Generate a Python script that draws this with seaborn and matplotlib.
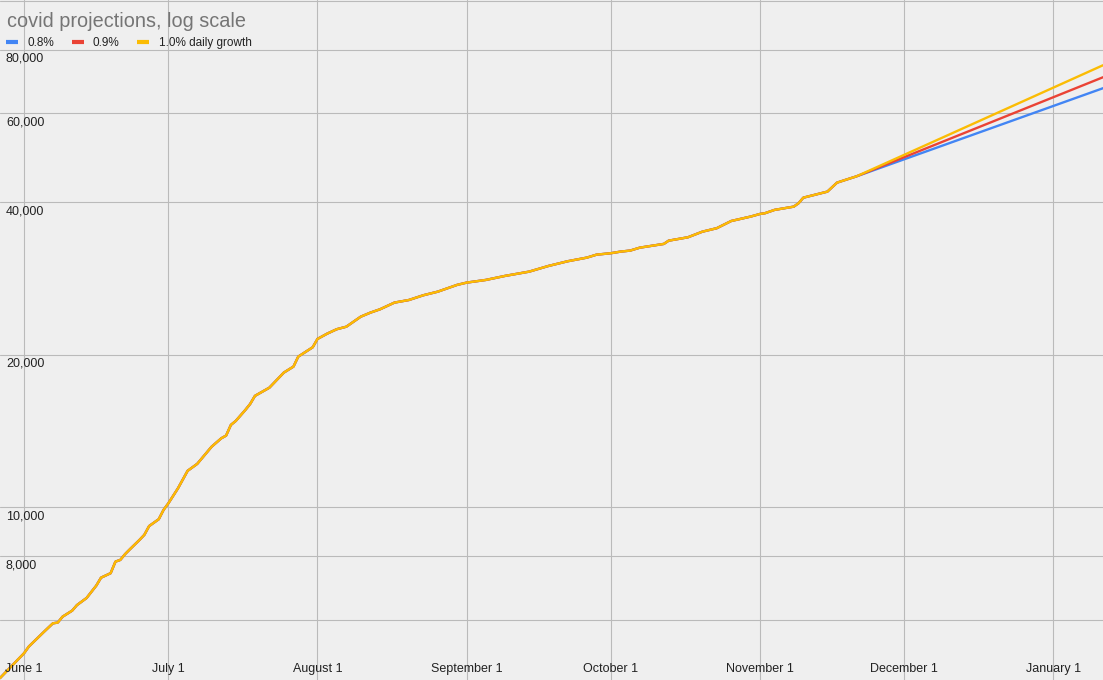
import pandas as pd
import matplotlib
matplotlib.use('Agg')
import matplotlib.pyplot as plt
import matplotlib.ticker as mticker
from matplotlib.transforms import offset_copy
import seaborn as sns

history_dates = [
    "2020-05-27", "2020-06-01", "2020-06-02", "2020-06-04", "2020-06-05", "2020-06-07",
    "2020-06-08", "2020-06-09", "2020-06-11", "2020-06-12", "2020-06-14", "2020-06-16",
    "2020-06-17", "2020-06-19", "2020-06-20", "2020-06-21", "2020-06-22", "2020-06-23",
    "2020-06-25", "2020-06-26", "2020-06-27", "2020-06-29", "2020-06-30", "2020-07-01",
    "2020-07-03", "2020-07-05", "2020-07-07", "2020-07-10", "2020-07-12", "2020-07-13",
    "2020-07-14", "2020-07-15", "2020-07-17", "2020-07-18", "2020-07-19", "2020-07-22",
    "2020-07-25", "2020-07-27", "2020-07-28", "2020-07-31", "2020-08-01", "2020-08-03",
    "2020-08-05", "2020-08-07", "2020-08-10", "2020-08-12", "2020-08-14", "2020-08-17",
    "2020-08-20", "2020-08-23", "2020-08-26", "2020-08-30", "2020-09-01", "2020-09-05",
    "2020-09-09", "2020-09-14", "2020-09-18", "2020-09-22", "2020-09-26", "2020-09-28",
    "2020-10-01", "2020-10-03", "2020-10-05", "2020-10-07", "2020-10-12", "2020-10-13",
    "2020-10-17", "2020-10-20", "2020-10-23", "2020-10-26", "2020-10-30", "2020-11-01",
    "2020-11-02", "2020-11-04", "2020-11-08", "2020-11-09", "2020-11-10", "2020-11-15",
    "2020-11-17", "2020-11-20", "2020-11-21",
]
history_values = [
    4600, 5150, 5310, 5540, 5660, 5900,
    5920, 6080, 6250, 6410, 6620, 7000,
    7260, 7410, 7810, 7870, 8080, 8260,
    8620, 8820, 9180, 9470, 9880, 10180,
    10900, 11800, 12180, 13170, 13680, 13850,
    14540, 14800, 15560, 15990, 16590, 17220,
    18440, 18950, 19830, 20690, 21490, 22010,
    22460, 22720, 23780, 24220, 24590, 25350,
    25650, 26210, 26640, 27470, 27760, 28100,
    28620, 29180, 29940, 30590, 31100, 31520,
    31730, 31960, 32110, 32540, 33100, 33590,
    34110, 34990, 35550, 36730, 37470, 37930,
    38050, 38630, 39210, 39820, 40840, 41980,
    43730, 44670, 44980,
]

# projections: straight lines on the log scale from the last observed point
series_labels = ["0.8%", "0.9%", "1.0% daily growth"]
series_colors = ["#4285f4", "#ea4335", "#fbbc04"]
proj_end_date = "2021-01-11 07:00"
proj_end_values = [67170, 70600, 74560]

y_ticks = [6000, 8000, 10000, 20000, 40000, 60000, 80000, 100000]
y_tick_labels = ["", "8,000", "10,000", "20,000", "40,000", "60,000", "80,000", ""]
x_tick_dates = ["2020-06-01", "2020-07-01", "2020-08-01", "2020-09-01",
                "2020-10-01", "2020-11-01", "2020-12-01", "2021-01-01"]
x_tick_labels = ["June 1", "July 1", "August 1", "September 1",
                 "October 1", "November 1", "December 1", "January 1"]

frames = []
for label, end_val in zip(series_labels, proj_end_values):
    d = pd.DataFrame({'date': history_dates + [proj_end_date],
                      'value': history_values + [end_val]})
    d['series'] = label
    frames.append(d)
df = pd.concat(frames, ignore_index=True)
df['date'] = pd.to_datetime(df['date'], format='mixed')

sns.set_theme(style='white')
plt.rcParams['font.family'] = ['Liberation Sans', 'DejaVu Sans']

bg = '#efefef'
grid_color = '#bababa'

fig = plt.figure(figsize=(11.03, 6.80), dpi=100, facecolor=bg)
ax = fig.add_axes([0, 0, 1, 1])
ax.set_facecolor(bg)

sns.lineplot(data=df, x='date', y='value', hue='series', hue_order=series_labels,
             palette=series_colors, estimator=None, linewidth=1.7, ax=ax)

ax.set_yscale('log')
ax.set_ylim(4560, 100300)
ax.set_xlim(pd.Timestamp("2020-05-27"), pd.Timestamp("2021-01-11 07:00"))

ax.set_yticks(y_ticks)
ax.yaxis.set_minor_locator(mticker.NullLocator())
ax.set_yticklabels([])
ax.set_xticks(pd.to_datetime(x_tick_dates))
ax.set_xticklabels([])
ax.tick_params(length=0)
ax.grid(True, color=grid_color, linewidth=0.8)
ax.set_axisbelow(True)
ax.set_xlabel('')
ax.set_ylabel('')
for s in ax.spines.values():
    s.set_visible(False)

# y labels sit just under their gridline, inside the plot
ytrans = offset_copy(ax.get_yaxis_transform(), fig=fig, x=6, y=-3, units='dots')
for v, lab in zip(y_ticks, y_tick_labels):
    if lab:
        ax.text(0, v, lab, transform=ytrans, ha='left', va='top', fontsize=9, color='#222222')

# x labels inside the bottom edge
for dt, lab in zip(pd.to_datetime(x_tick_dates), x_tick_labels):
    ax.text(dt, 8 / 680, lab, transform=ax.get_xaxis_transform(), ha='center',
            va='baseline', fontsize=9, color='#222222')

fig.text(7 / 1103, 1 - 27 / 680, 'covid projections, log scale', fontsize=14.3,
         color='#757575', ha='left', va='baseline')

leg = ax.legend(ncol=3, loc='upper left', bbox_to_anchor=(6 / 1103, 1 - 37 / 680),
                bbox_transform=fig.transFigure, frameon=False, fontsize=8.5,
                handlelength=1.0, handletextpad=0.8, columnspacing=1.5,
                borderpad=0, borderaxespad=0)
for h in leg.get_lines():
    h.set_linewidth(3)
    h.set_solid_capstyle('butt')
for t in leg.get_texts():
    t.set_color('#222222')

fig.savefig('out.png', dpi=100, facecolor=bg)
